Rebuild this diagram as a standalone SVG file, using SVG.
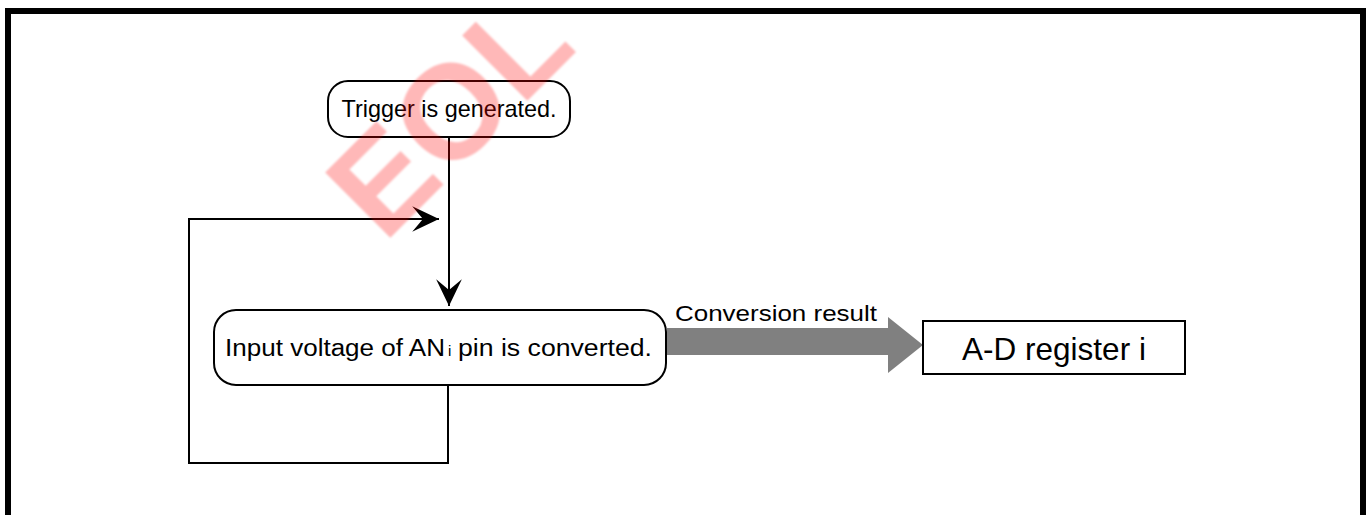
<svg xmlns="http://www.w3.org/2000/svg" width="1367" height="515" viewBox="0 0 1367 515">
  <style>
    .node { fill: #ffffff; stroke: #000000; stroke-width: 2; }
    .label { font-family: "Liberation Sans", Arial, sans-serif; fill: #000000; }
    .conn { fill: none; stroke: #000000; stroke-width: 2; }
    .wm { font-family: "Liberation Sans", Arial, sans-serif; font-weight: bold; fill: #ff0000; fill-opacity: 0.28; }
  </style>
  <defs>
    <marker id="arrow" markerUnits="userSpaceOnUse" markerWidth="30" markerHeight="30" viewBox="-26 -13 28 26" refX="0" refY="0" orient="auto">
      <path d="M0,0 L-25,-12 L-15,0 L-25,12 Z" fill="#000000"/>
    </marker>
    <filter id="soft" x="-10%" y="-10%" width="120%" height="120%">
      <feGaussianBlur stdDeviation="1.2"/>
    </filter>
  </defs>
  <rect x="0" y="0" width="1367" height="515" fill="#ffffff"/>
  <rect id="frame" x="8" y="11" width="1355" height="530" fill="none" stroke="#000000" stroke-width="6"/>

  <g id="connectors">
    <path class="conn" d="M449,137 L449,306" marker-end="url(#arrow)"/>
    <path class="conn" d="M448,385 L448,463 L189,463 L189,219 L439,219" marker-end="url(#arrow)"/>
    <polygon id="result-arrow" points="667,328 888,328 888,317 923,345 888,373 888,355 667,355" fill="#808080"/>
    <text class="label" x="675" y="321" font-size="22" textLength="202" lengthAdjust="spacingAndGlyphs">Conversion result</text>
  </g>

  <g id="node-trigger">
    <rect class="node" x="328" y="81" width="242" height="56" rx="20" ry="20"/>
    <text class="label" x="449" y="117" font-size="23.4" text-anchor="middle">Trigger is generated.</text>
  </g>

  <g id="node-convert">
    <rect class="node" x="214" y="310" width="452" height="75" rx="22" ry="22"/>
    <text class="label" x="225" y="356" font-size="23.5" textLength="220" lengthAdjust="spacingAndGlyphs">Input voltage of AN</text>
    <text class="label" x="448" y="356" font-size="15">i</text>
    <text class="label" x="458" y="356" font-size="23.5" textLength="194" lengthAdjust="spacingAndGlyphs">pin is converted.</text>
  </g>

  <g id="node-register">
    <rect class="node" x="923" y="321" width="262" height="53" fill="#ffffff"/>
    <text class="label" x="1054" y="360" font-size="31.5" text-anchor="middle">A-D register i</text>
  </g>

  <g id="watermark" filter="url(#soft)">
    <text class="wm" x="0" y="0" font-size="134" transform="translate(384,244) rotate(-45)">EOL</text>
  </g>
</svg>
